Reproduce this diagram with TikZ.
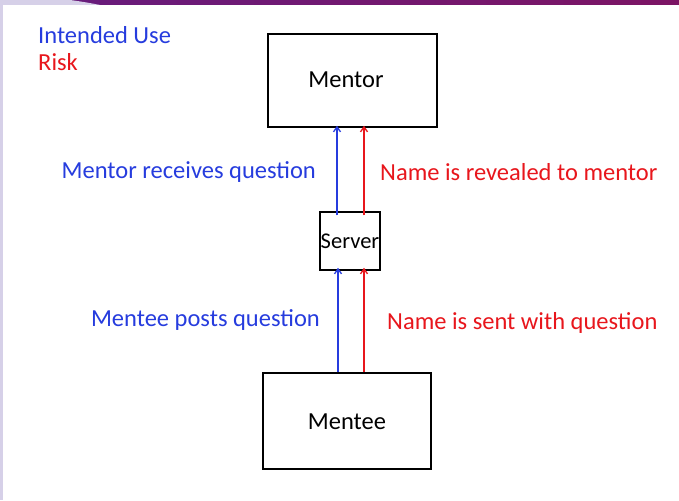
\documentclass[tikz,border=0pt]{standalone}
\usepackage{fontspec}
\setmainfont{Carlito}
\usetikzlibrary{arrows.meta,shadows}
\definecolor{useblue}{RGB}{38,60,222}
\definecolor{riskred}{RGB}{232,22,28}
\definecolor{lav}{RGB}{214,208,232}
\definecolor{purpA}{RGB}{104,28,124}
\definecolor{purpB}{RGB}{124,20,100}
\tikzset{
  box/.style={draw=black, line width=1.5pt, fill=white, inner sep=0pt,
    drop shadow={shadow xshift=1pt, shadow yshift=-1pt, opacity=0.35, fill=gray}},
  lbl/.style={font=\fontsize{24.5}{28}\selectfont, inner sep=0pt},
  flow/.style={line width=1.3pt, -{Straight Barb[length=5pt,width=7pt]}},
}
\begin{document}
\begin{tikzpicture}[x=1pt,y=-1pt]
\useasboundingbox (0,0) rectangle (679,500);
\fill[white] (0,0) rectangle (679,500);
% frame decoration
\fill[lav] (0,0) rectangle (3,500);
\shade[left color=purpA, right color=purpB] (60,0) rectangle (679,5);
\fill[lav] (0,0) -- (70,0) .. controls (85,2) and (95,4) .. (100,5) -- (0,5) -- cycle;
% legend
\node[lbl, text=useblue, anchor=west] (leg1) at (38,35) {Intended Use};
\node[lbl, text=riskred, anchor=west] (leg2) at (38,62) {Risk};
% boxes
\node[box, minimum width=169pt, minimum height=93pt] (mentor) at (352.5,80.5) {};
\node[lbl] (mentort) at (346,80) {Mentor};
\node[box, minimum width=60pt, minimum height=58pt] (server) at (350,241) {};
\node[lbl, font=\fontsize{22.5}{26}\selectfont] (servert) at (350,241) {Server};
\node[box, minimum width=168pt, minimum height=96pt] (mentee) at (347,421) {};
\node[lbl] (menteet) at (347,422) {Mentee};
% arrows
\draw[flow, useblue] ([xshift=-13pt,yshift=-4pt]server.north) -- ([xshift=-15.5pt,yshift=2pt]mentor.south);
\draw[flow, riskred] ([xshift=14pt,yshift=-4pt]server.north) -- ([xshift=11.5pt,yshift=2pt]mentor.south);
\draw[flow, useblue] ([xshift=-9pt]mentee.north) -- ([xshift=-12pt,yshift=3pt]server.south);
\draw[flow, riskred] ([xshift=17pt]mentee.north) -- ([xshift=14pt,yshift=3pt]server.south);
% labels
\node[lbl, text=useblue, anchor=east] (l1) at (316,172) {Mentor receives question};
\node[lbl, text=riskred, anchor=west] (l2) at (380,172) {Name is revealed to mentor};
\node[lbl, text=useblue, anchor=east] (l3) at (320,320) {Mentee posts question};
\node[lbl, text=riskred, anchor=west] (l4) at (387,323) {Name is sent with question};
\end{tikzpicture}
\end{document}
